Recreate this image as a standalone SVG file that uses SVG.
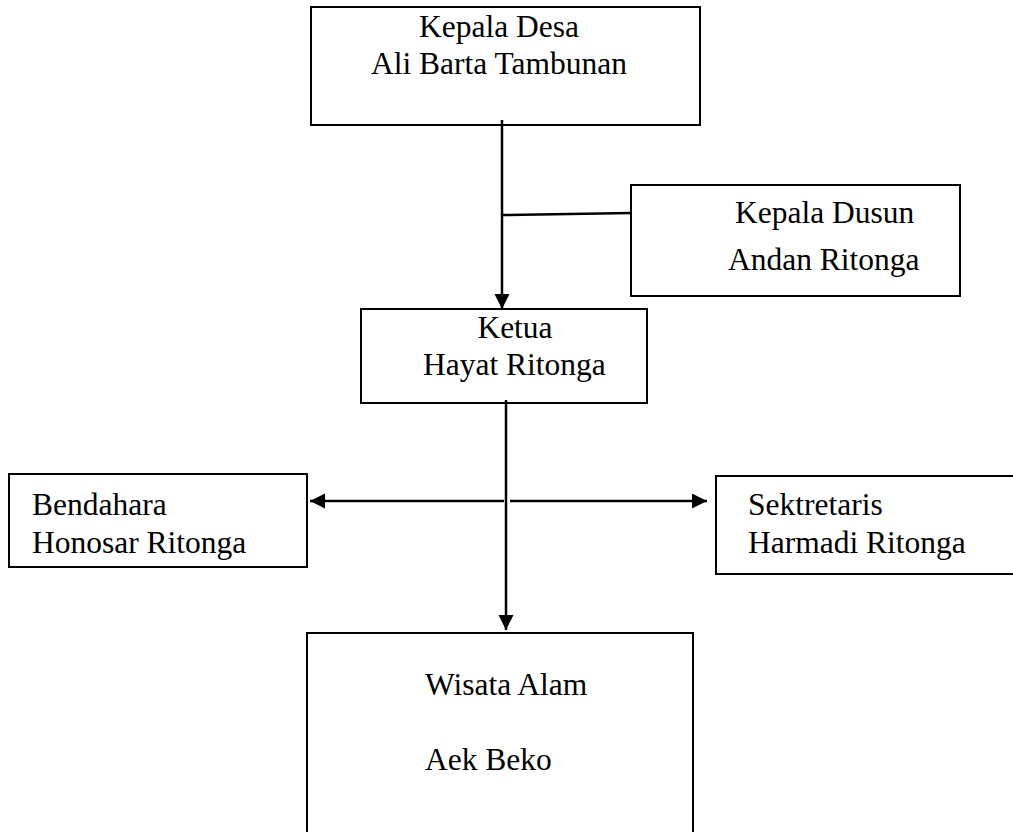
<svg xmlns="http://www.w3.org/2000/svg" width="1013" height="832" viewBox="0 0 1013 832">
<style>
.box{fill:#fff;stroke:#000;stroke-width:2}
text{font-family:'Liberation Serif','Times New Roman','DejaVu Serif',serif;font-size:31.5px;fill:#000}
.c{text-anchor:middle}
.ln{stroke:#000;stroke-width:2.5;fill:none}
</style>
<defs>
<marker id="ah" markerWidth="16" markerHeight="16" refX="15" refY="7.5" orient="auto" markerUnits="userSpaceOnUse">
<path d="M0,0 L15,7.5 L0,15 Z" fill="#000"/>
</marker>
</defs>
<rect width="1013" height="832" fill="#fff"/>
<g id="kepala-desa">
<rect class="box" x="311" y="7" width="389" height="118"/>
<text class="c" x="499" y="37">Kepala Desa</text>
<text class="c" x="499" y="74">Ali Barta Tambunan</text>
</g>
<g id="kepala-dusun">
<rect class="box" x="631" y="185" width="329" height="111"/>
<text x="735" y="223">Kepala Dusun</text>
<text x="728" y="270">Andan Ritonga</text>
</g>
<g id="ketua">
<rect class="box" x="361" y="309" width="286" height="94"/>
<text class="c" x="515" y="338">Ketua</text>
<text x="423" y="375">Hayat Ritonga</text>
</g>
<g id="bendahara">
<rect class="box" x="9" y="474" width="298" height="93"/>
<text x="32" y="515">Bendahara</text>
<text x="32" y="553">Honosar Ritonga</text>
</g>
<g id="sekretaris">
<rect class="box" x="716" y="476" width="310" height="98"/>
<text x="748" y="515">Sektretaris</text>
<text x="748" y="553">Harmadi Ritonga</text>
</g>
<g id="wisata">
<rect class="box" x="307" y="633" width="386" height="210"/>
<text x="425" y="695">Wisata Alam</text>
<text x="425" y="770">Aek Beko</text>
</g>
<g id="connectors">
<line class="ln" x1="502" y1="120" x2="502" y2="309" marker-end="url(#ah)"/>
<line class="ln" x1="502" y1="215" x2="631" y2="213"/>
<line class="ln" x1="506" y1="400" x2="506" y2="630" marker-end="url(#ah)"/>
<line class="ln" x1="504" y1="501" x2="310" y2="501" marker-end="url(#ah)"/>
<line class="ln" x1="510" y1="501" x2="707" y2="501" marker-end="url(#ah)"/>
</g>
</svg>
